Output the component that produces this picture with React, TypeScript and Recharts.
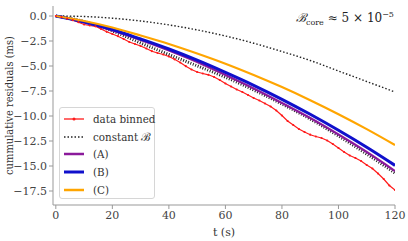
import { Line, LineChart, XAxis, YAxis } from "recharts";

// binned data (every 2 s)
const tBinned = [
  0, 2, 4, 6, 8, 10, 12, 14, 16, 18, 20, 22, 24, 26, 28, 30, 32, 34, 36, 38, 40,
  42, 44, 46, 48, 50, 52, 54, 56, 58, 60, 62, 64, 66, 68, 70, 72, 74, 76, 78, 80,
  82, 84, 86, 88, 90, 92, 94, 96, 98, 100, 102, 104, 106, 108, 110, 112, 114, 116, 118, 120,
];
const binned = [
  0, -0.12, -0.27, -0.42, -0.62, -0.85, -0.95, -1.03, -1.3, -1.58, -1.8, -2.02, -2.3, -2.6,
  -2.8, -3.0, -3.25, -3.52, -3.7, -3.85, -4.05, -4.33, -4.65, -5.02, -5.35, -5.6, -5.75,
  -5.88, -6.1, -6.4, -6.75, -7.05, -7.35, -7.6, -7.9, -8.2, -8.45, -8.75, -9.05, -9.45,
  -9.95, -10.5, -10.9, -11.3, -11.6, -11.87, -12.05, -12.2, -12.45, -12.8, -13.2, -13.6,
  -13.95, -14.2, -14.5, -14.9, -15.25, -15.75, -16.3, -16.95, -17.4,
];

// model curves (every 10 s)
const tModel = [0, 10, 20, 30, 40, 50, 60, 70, 80, 90, 100, 110, 120];
const constB = [0, -0.05, -0.22, -0.5, -0.89, -1.39, -2.0, -2.72, -3.55, -4.45, -5.5, -6.55, -7.6];
const constBFit = [0, -0.55, -1.5, -2.7, -3.85, -4.98, -6.12, -7.4, -8.8, -10.3, -12.0, -13.8, -15.7];
const modelA = [0, -0.62, -1.45, -2.4, -3.45, -4.6, -5.9, -7.25, -8.7, -10.2, -11.85, -13.6, -15.5];
const modelB = [0, -0.6, -1.35, -2.3, -3.3, -4.42, -5.64, -6.93, -8.33, -9.83, -11.43, -13.13, -14.94];
const modelC = [0, -0.5, -1.15, -1.95, -2.8, -3.75, -4.77, -5.9, -7.11, -8.42, -9.82, -11.31, -12.9];

const xTicks = [0, 20, 40, 60, 80, 100, 120];
const yTicks = [0, -2.5, -5, -7.5, -10, -12.5, -15, -17.5];

const binnedData = tBinned.map((t, i) => ({ t, v: binned[i] }));
const modelData = tModel.map((t, i) => ({
  t,
  constB: constB[i],
  constBFit: constBFit[i],
  a: modelA[i],
  b: modelB[i],
  c: modelC[i],
}));

const font = "DejaVu Serif";
const fontNarrow = "DejaVu Serif Condensed, DejaVu Serif";
const fmtY = (v: number) => (v < 0 ? "\u2212" + Math.abs(v).toFixed(1) : v.toFixed(1));

const legendItems = [
  { name: "data binned", color: "#ff1a1a", dash: "", width: 1.3, dot: true },
  { name: "constant \u212C", color: "#222", dash: "1.5 2", width: 1.4, dot: false },
  { name: "(A)", color: "#8b1a9b", dash: "", width: 2.5, dot: false },
  { name: "(B)", color: "#1010cc", dash: "", width: 3, dot: false },
  { name: "(C)", color: "#ffa500", dash: "", width: 2.5, dot: false },
];

const App = () => {
  return (
    <div style={{ position: "absolute", left: 0, top: 0, width: 408, height: 241, fontFamily: font }}>
      <LineChart width={408} height={241} margin={{ top: 6, right: 13, bottom: 0, left: 0 }} style={{ fontFamily: font }}>
        <XAxis
          dataKey="t"
          type="number"
          domain={[-1, 120]}
          ticks={xTicks}
          allowDataOverflow
          height={36}
          tickSize={4}
          stroke="#999"
          tick={{ fill: "#444", fontSize: 11, fontFamily: font }}
          label={{ value: "t (s)", position: "insideBottom", offset: 5, fill: "#333", fontSize: 11, fontFamily: font }}
        />
        <XAxis xAxisId="top" orientation="top" type="number" domain={[-1, 120]} height={0} tick={false} tickLine={false} stroke="#555" />
        <YAxis
          type="number"
          domain={[-18.9, 1.0]}
          ticks={yTicks}
          allowDataOverflow
          width={53}
          tickSize={4}
          stroke="#999"
          tickFormatter={fmtY}
          tick={{ fill: "#444", fontSize: 11, fontFamily: font }}
          label={{
            value: "cummulative residuals (ms)",
            angle: -90,
            position: "insideLeft",
            offset: 9,
            fill: "#333",
            fontSize: 11,
            fontFamily: fontNarrow,
            style: { textAnchor: "middle" },
          }}
        />
        <YAxis yAxisId="right" orientation="right" type="number" domain={[-18.9, 1.0]} width={0} tick={false} tickLine={false} stroke="#555" />

        <Line data={binnedData} dataKey="v" stroke="#ff1a1a" strokeWidth={1.2} dot={{ r: 1.1, fill: "#ff1a1a", stroke: "none" }} isAnimationActive={false} />
        <Line data={modelData} dataKey="constB" stroke="#222" strokeWidth={1.4} strokeDasharray="1.5 2" dot={false} type="monotone" isAnimationActive={false} />
        <Line data={modelData} dataKey="constBFit" stroke="#222" strokeWidth={3} strokeDasharray="1 1.6" dot={false} type="monotone" isAnimationActive={false} />
        <Line data={modelData} dataKey="a" stroke="#8b1a9b" strokeWidth={2.2} dot={false} type="monotone" isAnimationActive={false} />
        <Line data={modelData} dataKey="b" stroke="#1010cc" strokeWidth={3} dot={false} type="monotone" isAnimationActive={false} />
        <Line data={modelData} dataKey="c" stroke="#ffa500" strokeWidth={2.2} dot={false} type="monotone" isAnimationActive={false} />
      </LineChart>

      <div
        style={{
          position: "absolute",
          left: 296,
          top: 6,
          fontSize: 12,
          color: "#222",
          whiteSpace: "nowrap",
          lineHeight: "18px",
        }}
      >
        <i>{"\u212C"}</i>
        <sub style={{ fontSize: 8 }}>core</sub> {"\u2248 5 \u00D7 10"}
        <sup style={{ fontSize: 8 }}>{"\u22125"}</sup>
      </div>

      <div
        style={{
          position: "absolute",
          left: 59,
          top: 107,
          width: 96,
          height: 92,
          boxSizing: "border-box",
          border: "1px solid #d6d6d6",
          borderRadius: 3,
          background: "rgba(255,255,255,0.85)",
          paddingTop: 2,
          fontFamily: fontNarrow,
        }}
      >
        {legendItems.map((it) => (
          <div
            key={it.name}
            style={{ display: "flex", alignItems: "center", height: 17.7, fontSize: 11.5, color: "#333", whiteSpace: "nowrap" }}
          >
            <svg width={30} height={10} style={{ marginLeft: 3, flexShrink: 0 }}>
              <line x1={1} y1={5} x2={21} y2={5} stroke={it.color} strokeWidth={it.width} strokeDasharray={it.dash || undefined} />
              {it.dot && <circle cx={11} cy={5} r={1.5} fill={it.color} />}
            </svg>
            <span>{it.name}</span>
          </div>
        ))}
      </div>
    </div>
  );
};

export default App;
